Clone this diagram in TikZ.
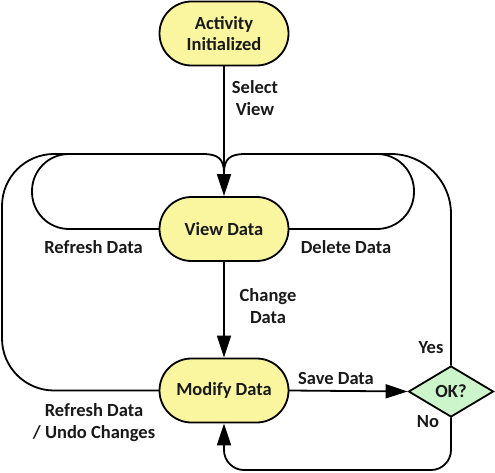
\documentclass[tikz,border=0pt]{standalone}
\usepackage{fontspec}
\setmainfont{Carlito}
\usetikzlibrary{shapes.misc,shapes.geometric,arrows.meta}
\definecolor{nodeyellow}{RGB}{250,246,160}
\definecolor{nodegreen}{RGB}{204,245,204}
\begin{document}
\begin{tikzpicture}[x=1pt,y=-1pt,
  line width=1.8pt, line cap=round,
  >={Triangle[length=22pt,width=14pt]},
  every node/.style={font=\fontsize{18.5}{21.5}\selectfont\bfseries, text=black!90},
  state/.style={rounded rectangle, draw, fill=nodeyellow, minimum width=129pt, minimum height=64pt, inner sep=0pt, align=center},
  decision/.style={diamond, draw, fill=nodegreen, minimum width=85pt, minimum height=51pt, inner sep=0pt, aspect=1.7},
  lbl/.style={align=center, inner sep=0pt}]
\useasboundingbox (0,0) rectangle (495,473);

\node[state] (AI) at (224,33.5) {Activity\\Initialized};
\node[state] (VD) at (224,229) {View Data};
\node[state] (MD) at (224,390.5) {Modify Data};
\node[decision] (OK) at (451,391.5) {OK?};

\coordinate (mL) at (203,154);
\coordinate (mR) at (245,154);
\coordinate (mg) at (224,173);

% loops
\draw[rounded corners=37pt] (VD.west) -- (32,229) -- (32,154) -- (mL);
\draw[rounded corners=52pt] (MD.west) -- (2,390.5) -- (2,154) -- (mL);
\draw[rounded corners=37pt] (VD.east) -- (414,229) -- (414,154) -- (mR);
\draw[rounded corners=60pt] (OK.north) -- (451,154) -- (mR);
\draw (mL) .. controls (218,154) and (224,159) .. (mg);
\draw (mR) .. controls (230,154) and (224,159) .. (mg);

% main arrows
\draw[->] (AI.south) -- (VD.north);
\draw[->] (VD.south) -- (MD.north);
\draw[->] (MD.east) -- (OK.west);
\draw[->, rounded corners=20pt] (OK.south) -- (451,470) -- (224,470) -- (MD.south);

% labels
\node[lbl] (lSel) at (255,98) {Select\\View};
\node[lbl] (lRef) at (93.5,247) {Refresh Data};
\node[lbl] (lDel) at (346,247) {Delete Data};
\node[lbl] (lChg) at (268,306) {Change\\Data};
\node[lbl] (lYes) at (431,348) {Yes};
\node[lbl] (lSave) at (336,378) {Save Data};
\node[lbl] (lNo) at (428,422) {No};
\node[lbl] (lUndo) at (94,422.5) {Refresh Data\\/ Undo Changes};
\end{tikzpicture}
\end{document}
